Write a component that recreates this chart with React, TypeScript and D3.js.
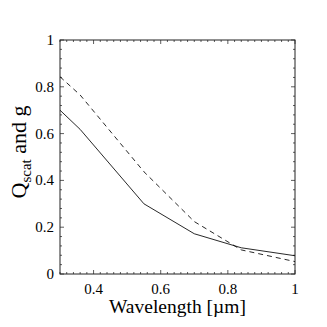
import * as d3 from 'd3';
import { useEffect, useRef } from 'react';

// wavelength grid (µm) and the two curves
const wavelength = [0.3, 0.36, 0.55, 0.7, 0.84, 1.0];
const qScat = [0.70, 0.618, 0.30, 0.172, 0.112, 0.078];
const gParam = [0.843, 0.765, 0.437, 0.224, 0.103, 0.053];

const xTickValues = [0.4, 0.6, 0.8, 1];
const yTickValues = [0, 0.2, 0.4, 0.6, 0.8, 1];

const W = 327, H = 327;
const margin = { top: 40, right: 32, bottom: 53, left: 60 };

const App = () => {
    const svgRef = useRef<SVGSVGElement>(null);
    useEffect(() => {
        const svg = d3.select(svgRef.current);
        svg.selectAll('*').remove();
        const iw = W - margin.left - margin.right;
        const ih = H - margin.top - margin.bottom;
        const x = d3.scaleLinear().domain([0.3, 1]).range([0, iw]);
        const y = d3.scaleLinear().domain([0, 1]).range([ih, 0]);
        const g = svg.append('g').attr('transform', `translate(${margin.left},${margin.top})`);
        const font = '"Liberation Serif", "DejaVu Serif", serif';

        // minor + major ticks, inside, on all 4 sides
        const xMinor = d3.range(0.3, 1.0001, 0.02);
        const yMinor = d3.range(0, 1.0001, 0.04);
        const tk = g.append('g').attr('stroke', '#333').attr('stroke-width', 0.8);
        xMinor.forEach(v => {
            const major = xTickValues.some(t => Math.abs(t - v) < 1e-6);
            const len = major ? 4 : 2;
            tk.append('line').attr('x1', x(v)).attr('x2', x(v)).attr('y1', ih).attr('y2', ih - len);
            tk.append('line').attr('x1', x(v)).attr('x2', x(v)).attr('y1', 0).attr('y2', len);
        });
        yMinor.forEach(v => {
            const major = yTickValues.some(t => Math.abs(t - v) < 1e-6);
            const len = major ? 4 : 2;
            tk.append('line').attr('y1', y(v)).attr('y2', y(v)).attr('x1', 0).attr('x2', len);
            tk.append('line').attr('y1', y(v)).attr('y2', y(v)).attr('x1', iw).attr('x2', iw - len);
        });

        g.append('rect').attr('width', iw).attr('height', ih)
            .attr('fill', 'none').attr('stroke', '#222').attr('stroke-width', 1);

        g.selectAll('.xt').data(xTickValues).enter().append('text')
            .attr('x', d => x(d)).attr('y', ih + 20)
            .attr('text-anchor', 'middle').attr('font-family', font).attr('font-size', 15)
            .text(d => d3.format('~g')(d));
        g.selectAll('.yt').data(yTickValues).enter().append('text')
            .attr('x', -6).attr('y', d => y(d) + 5)
            .attr('text-anchor', 'end').attr('font-family', font).attr('font-size', 15)
            .text(d => d3.format('~g')(d));

        const line = d3.line<number>().x((d, i) => x(wavelength[i])).y(d => y(d));
        g.append('path').attr('d', line(qScat)).attr('fill', 'none')
            .attr('stroke', '#111').attr('stroke-width', 0.9);
        g.append('path').attr('d', line(gParam)).attr('fill', 'none')
            .attr('stroke', '#111').attr('stroke-width', 0.9).attr('stroke-dasharray', '5,4');

        svg.append('text')
            .attr('x', margin.left + iw / 2).attr('y', H - 14)
            .attr('text-anchor', 'middle').attr('font-family', font).attr('font-size', 19.5)
            .text('Wavelength [µm]');

        const yl = svg.append('text')
            .attr('transform', `translate(26,${margin.top + ih / 2 - 5}) rotate(-90)`)
            .attr('text-anchor', 'middle').attr('font-family', font).attr('font-size', 22);
        yl.append('tspan').text('Q');
        yl.append('tspan').attr('font-size', 15).attr('dy', 5).text('scat');
        yl.append('tspan').attr('dy', -5).text(' and g');
    }, []);

    return (
        <svg ref={svgRef} width={W} height={H} style={{ position: 'absolute', left: 0, top: 0, background: '#fff' }}></svg>
    );
};

export default App;
